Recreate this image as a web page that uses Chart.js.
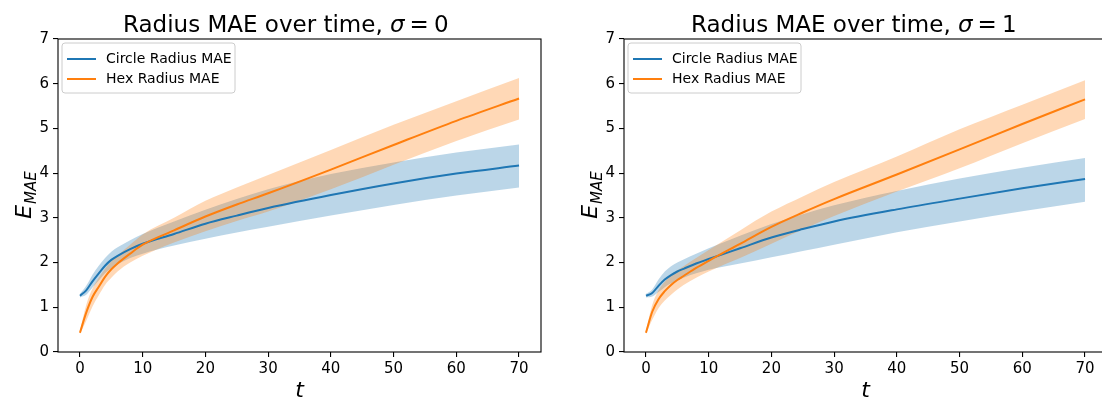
<!DOCTYPE html>
<html><head><meta charset="utf-8">
<script src="https://cdn.jsdelivr.net/npm/chart.js@4/dist/chart.umd.min.js"></script>
<style>
html,body{margin:0;padding:0;background:#fff;overflow:hidden;width:1102px;height:401px;}
.wrap{position:absolute;top:0;width:551px;height:401px;}
</style></head><body>
<div class="wrap" style="left:0"><canvas id="c0" width="551" height="401"></canvas></div>
<div class="wrap" style="left:566px"><canvas id="c1" width="551" height="401"></canvas></div>
<script>
const T = [0,1,2,3,4,5,6,8,10,15,20,25,30,40,50,60,70];
// sigma = 0
const circleMean0 = [1.26,1.38,1.58,1.76,1.93,2.06,2.15,2.30,2.42,2.64,2.87,3.05,3.22,3.51,3.77,3.99,4.17];
const circleLow0  = [1.22,1.28,1.44,1.60,1.76,1.88,1.96,2.10,2.20,2.38,2.53,2.67,2.80,3.05,3.29,3.50,3.68];
const circleHigh0 = [1.30,1.48,1.73,1.93,2.10,2.24,2.34,2.50,2.64,2.92,3.18,3.42,3.64,3.98,4.24,4.46,4.64];
const hexMean0 = [0.43,0.88,1.23,1.46,1.68,1.85,1.98,2.20,2.40,2.72,3.03,3.30,3.55,4.08,4.63,5.17,5.67];
const hexLow0  = [0.40,0.70,1.02,1.27,1.50,1.66,1.80,2.00,2.15,2.45,2.70,2.93,3.14,3.64,4.19,4.72,5.20];
const hexHigh0 = [0.47,1.05,1.42,1.66,1.86,2.03,2.16,2.40,2.63,3.00,3.38,3.68,3.96,4.52,5.08,5.61,6.13];
// sigma = 1
const circleMean1 = [1.26,1.32,1.48,1.62,1.72,1.80,1.86,1.98,2.08,2.32,2.56,2.75,2.92,3.19,3.43,3.66,3.87];
const circleLow1  = [1.22,1.24,1.34,1.45,1.54,1.60,1.66,1.76,1.84,1.98,2.12,2.26,2.40,2.68,2.92,3.15,3.36];
const circleHigh1 = [1.30,1.40,1.62,1.80,1.92,2.00,2.07,2.20,2.32,2.60,2.86,3.08,3.28,3.60,3.88,4.12,4.34];
const hexMean1 = [0.43,0.90,1.18,1.36,1.50,1.61,1.70,1.88,2.04,2.42,2.80,3.12,3.42,3.97,4.53,5.10,5.65];
const hexLow1  = [0.40,0.72,0.98,1.15,1.28,1.40,1.50,1.66,1.80,2.10,2.42,2.74,3.04,3.59,4.11,4.67,5.21];
const hexHigh1 = [0.47,1.05,1.38,1.57,1.72,1.83,1.92,2.10,2.28,2.72,3.14,3.48,3.80,4.37,4.98,5.53,6.08];
const xTicks = [0,10,20,30,40,50,60,70];
const yTicks = [0,1,2,3,4,5,6,7];
const seriesNames = ['Circle Radius MAE','Hex Radius MAE'];
const sigmaValues = ['0','1'];

const BLUE = '#1f77b4', ORANGE = '#ff7f0e';
const BLUE_FILL = 'rgba(31,119,180,0.3)', ORANGE_FILL = 'rgba(255,127,14,0.3)';
const FONT = "'DejaVu Sans'";

function pts(arr){ return T.map((t,i)=>({x:t,y:arr[i]})); }

function decoPlugin(sigma, titleX){
  return {
    id:'deco',
    afterDraw(chart){
      const ctx = chart.ctx, a = chart.chartArea;
      ctx.save();
      ctx.strokeStyle = '#000'; ctx.lineWidth = 1.1;
      ctx.strokeRect(a.left, a.top, a.right - a.left, a.bottom - a.top);
      ctx.fillStyle = '#000'; ctx.textBaseline = 'alphabetic'; ctx.textAlign = 'left';
      let x = titleX; const by = 32;
      ctx.font = '23px ' + FONT;
      const p1 = 'Radius MAE over time, ';
      ctx.fillText(p1, x, by); x += ctx.measureText(p1).width;
      ctx.font = 'italic 23px ' + FONT;
      ctx.fillText('σ', x, by); x += ctx.measureText('σ').width + 5;
      ctx.font = '23px ' + FONT;
      ctx.fillText('=', x, by); x += ctx.measureText('=').width + 5;
      ctx.fillText(sigma, x, by);
      ctx.font = 'italic 22px ' + FONT; ctx.textAlign = 'center';
      ctx.fillText('t', (a.left + a.right) / 2, 397);
      ctx.save();
      ctx.translate(31, (a.top + a.bottom) / 2);
      ctx.rotate(-Math.PI / 2);
      ctx.textAlign = 'left';
      ctx.font = 'italic 22px ' + FONT;
      const wE = ctx.measureText('E').width;
      ctx.font = 'italic 15px ' + FONT;
      const wS = ctx.measureText('MAE').width;
      const sx = -(wE + wS) / 2;
      ctx.font = 'italic 22px ' + FONT;
      ctx.fillText('E', sx, 0);
      ctx.font = 'italic 15px ' + FONT;
      ctx.fillText('MAE', sx + wE + 1, 5);
      ctx.restore();
      const lx = a.left + 4, ly = a.top + 4, lw = 173, lh = 50, r = 3;
      ctx.beginPath();
      ctx.moveTo(lx + r, ly); ctx.lineTo(lx + lw - r, ly); ctx.quadraticCurveTo(lx + lw, ly, lx + lw, ly + r);
      ctx.lineTo(lx + lw, ly + lh - r); ctx.quadraticCurveTo(lx + lw, ly + lh, lx + lw - r, ly + lh);
      ctx.lineTo(lx + r, ly + lh); ctx.quadraticCurveTo(lx, ly + lh, lx, ly + lh - r);
      ctx.lineTo(lx, ly + r); ctx.quadraticCurveTo(lx, ly, lx + r, ly);
      ctx.closePath();
      ctx.fillStyle = 'rgba(255,255,255,0.8)'; ctx.fill();
      ctx.strokeStyle = '#cccccc'; ctx.lineWidth = 1; ctx.stroke();
      const cols = [BLUE, ORANGE];
      ctx.font = '14px ' + FONT; ctx.textBaseline = 'middle'; ctx.textAlign = 'left';
      for (let i = 0; i < 2; i++) {
        const yy = a.top + 20 + i * 20;
        ctx.strokeStyle = cols[i]; ctx.lineWidth = 2;
        ctx.beginPath(); ctx.moveTo(a.left + 9, yy); ctx.lineTo(a.left + 38, yy); ctx.stroke();
        ctx.fillStyle = '#000';
        ctx.fillText(seriesNames[i], a.left + 48, yy);
      }
      ctx.restore();
    }
  };
}

function makeChart(id, cm, cl, ch, hm, hl, hh, sigma, titleX){
  const lineBase = {pointRadius:0, borderWidth:2, fill:false, cubicInterpolationMode:'monotone'};
  const bandBase = {pointRadius:0, borderWidth:0, cubicInterpolationMode:'monotone'};
  new Chart(document.getElementById(id), {
    type:'line',
    data:{datasets:[
      Object.assign({label:seriesNames[1], data:pts(hm), borderColor:ORANGE}, lineBase),
      Object.assign({label:seriesNames[0], data:pts(cm), borderColor:BLUE}, lineBase),
      Object.assign({label:'hexHigh', data:pts(hh), borderColor:'rgba(0,0,0,0)', backgroundColor:ORANGE_FILL, fill:3}, bandBase),
      Object.assign({label:'hexLow', data:pts(hl), borderColor:'rgba(0,0,0,0)', fill:false}, bandBase),
      Object.assign({label:'circleHigh', data:pts(ch), borderColor:'rgba(0,0,0,0)', backgroundColor:BLUE_FILL, fill:5}, bandBase),
      Object.assign({label:'circleLow', data:pts(cl), borderColor:'rgba(0,0,0,0)', fill:false}, bandBase)
    ]},
    options:{
      responsive:false, animation:false, events:[],
      layout:{padding:{left:0, right:10, top:39, bottom:0}},
      plugins:{legend:{display:false}, tooltip:{enabled:false}, title:{display:false}},
      scales:{
        x:{type:'linear', min:-3.5, max:73.5,
          afterBuildTicks(s){ s.ticks = xTicks.map(v=>({value:v})); },
          afterFit(s){ s.height = 49; },
          ticks:{font:{family:'DejaVu Sans', size:15}, color:'#000', padding:3, maxRotation:0},
          grid:{drawOnChartArea:false, drawTicks:true, tickLength:5, color:'#000', lineWidth:1.1},
          border:{display:false}},
        y:{type:'linear', min:0, max:7,
          afterBuildTicks(s){ s.ticks = yTicks.map(v=>({value:v})); },
          afterFit(s){ s.width = 58; },
          ticks:{font:{family:'DejaVu Sans', size:15}, color:'#000', padding:4},
          grid:{drawOnChartArea:false, drawTicks:true, tickLength:5, color:'#000', lineWidth:1.1},
          border:{display:false}}
      }
    },
    plugins:[decoPlugin(sigma, titleX)]
  });
}

makeChart('c0', circleMean0, circleLow0, circleHigh0, hexMean0, hexLow0, hexHigh0, sigmaValues[0], 123);
makeChart('c1', circleMean1, circleLow1, circleHigh1, hexMean1, hexLow1, hexHigh1, sigmaValues[1], 125);
</script>
</body></html>
